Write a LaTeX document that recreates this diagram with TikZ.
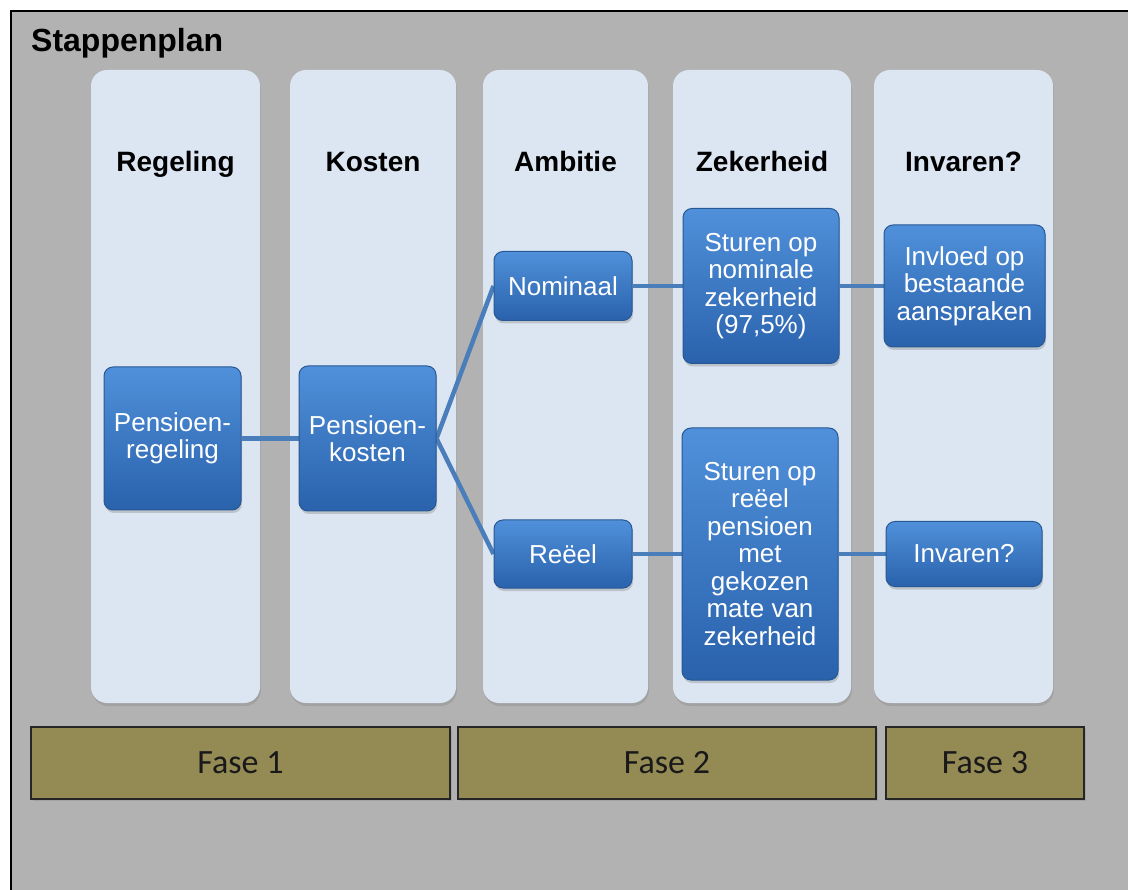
\documentclass[tikz,border=0pt]{standalone}
\usepackage{fontspec}
\setmainfont{Liberation Sans}
\newfontfamily\calfont{Carlito}
\usetikzlibrary{shadows}
\definecolor{bgray}{HTML}{B2B2B2}
\definecolor{colfill}{HTML}{DCE6F2}
\definecolor{btop}{HTML}{5090DA}
\definecolor{bbot}{HTML}{2A62AC}
\definecolor{bdraw}{HTML}{285894}
\definecolor{edgec}{HTML}{4A7EBB}
\definecolor{olivefill}{HTML}{948A54}
\pgfdeclarelayer{cols}
\pgfdeclarelayer{edges}
\pgfsetlayers{cols,edges,main}
\tikzset{
  colbox/.style={fill=colfill, draw=none, rounded corners=16pt, inner sep=0pt,
    drop shadow={opacity=0.3, shadow xshift=1pt, shadow yshift=-3pt}},
  hdr/.style={anchor=base, inner sep=0pt, font=\bfseries\fontsize{28}{30}\selectfont},
  bluebox/.style={top color=btop, bottom color=bbot, draw=bdraw, line width=1pt,
    rounded corners=9pt, text=white, align=center, inner sep=0pt,
    font=\fontsize{26}{27.5}\selectfont,
    drop shadow={opacity=0.35, shadow xshift=1pt, shadow yshift=-3pt}},
  fasebox/.style={fill=olivefill, draw=black!85, line width=1.3pt, inner sep=0pt,
    font=\calfont\fontsize{34}{36}\selectfont, text=black!90,
    drop shadow={opacity=0.3, shadow xshift=2pt, shadow yshift=-2pt}},
  conn/.style={draw=edgec, line width=4.5pt}
}
\begin{document}
\begin{tikzpicture}[x=1pt,y=-1pt]
\useasboundingbox (0,0) rectangle (1128,890);
\begin{pgfonlayer}{cols}
\fill[white] (0,0) rectangle (1128,890);
\fill[bgray] (11,11) rectangle (1128,890);
\draw[line width=1.5pt] (11,890) -- (11,11) -- (1128,11);
\node[colbox, minimum width=169pt, minimum height=633pt] (c1) at (175.5,386.5) {};
\node[colbox, minimum width=166pt, minimum height=633pt] (c2) at (373,386.5) {};
\node[colbox, minimum width=165pt, minimum height=633pt] (c3) at (565.5,386.5) {};
\node[colbox, minimum width=178pt, minimum height=633pt] (c4) at (762,386.5) {};
\node[colbox, minimum width=179pt, minimum height=633pt] (c5) at (963.5,386.5) {};
\end{pgfonlayer}

\node[anchor=base west, inner sep=0pt, font=\bfseries\fontsize{32}{34}\selectfont] (title) at (31,52) {Stappenplan};

\node[hdr] (h1) at (175.5,172) {Regeling};
\node[hdr] (h2) at (373,172) {Kosten};
\node[hdr] (h3) at (565.5,172) {Ambitie};
\node[hdr] (h4) at (762,172) {Zekerheid};
\node[hdr] (h5) at (963.5,172) {Invaren?};

\node[bluebox, minimum width=137pt, minimum height=143pt] (reg) at (172.5,438.5) {Pensioen-\\regeling};
\node[bluebox, minimum width=137pt, minimum height=145pt] (kos) at (367.5,438.5) {Pensioen-\\kosten};
\node[bluebox, minimum width=138pt, minimum height=69pt] (nom) at (563,286) {Nominaal};
\node[bluebox, minimum width=138pt, minimum height=68pt] (ree) at (563,554) {Reëel};
\node[bluebox, minimum width=156pt, minimum height=155pt] (st1) at (761,286) {Sturen op\\nominale\\zekerheid\\(97,5\%)};
\node[bluebox, minimum width=156pt, minimum height=252pt] (st2) at (760,554) {Sturen op\\reëel\\pensioen\\met\\gekozen\\mate van\\zekerheid};
\node[bluebox, minimum width=161pt, minimum height=122pt] (inv1) at (964.5,286) {Invloed op\\bestaande\\aanspraken};
\node[bluebox, minimum width=156pt, minimum height=65pt] (inv2) at (964,554) {Invaren?};

\begin{pgfonlayer}{edges}
\draw[conn] (reg) -- (kos);
\draw[conn] (kos.east) -- (nom.west);
\draw[conn] (kos.east) -- (ree.west);
\draw[conn] (nom) -- (st1);
\draw[conn] (st1) -- (inv1);
\draw[conn] (ree) -- (st2);
\draw[conn] (st2) -- (inv2);
\end{pgfonlayer}

\node[fasebox, minimum width=419pt, minimum height=72pt] (f1) at (240.5,763) {Fase 1};
\node[fasebox, minimum width=418pt, minimum height=72pt] (f2) at (667,763) {Fase 2};
\node[fasebox, minimum width=198pt, minimum height=72pt] (f3) at (985,763) {Fase 3};
\end{tikzpicture}
\end{document}
